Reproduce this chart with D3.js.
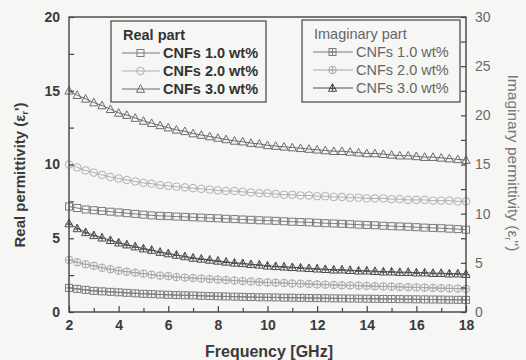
<!DOCTYPE html>
<html>
<head>
<meta charset="utf-8">
<script src="https://cdn.jsdelivr.net/npm/d3@7"></script>
<style>
  body { margin: 0; background: #f6f6f4; }
  svg { display: block; font-family: "Liberation Sans", Arial, sans-serif; }
</style>
</head>
<body>
<div id="chart"></div>
<script>
// frequency points (GHz)
const freq = [
  2.00, 2.33, 2.67, 3.00, 3.33, 3.67, 4.00,
  4.33, 4.67, 5.00, 5.33, 5.67, 6.00, 6.33,
  6.67, 7.00, 7.33, 7.67, 8.00, 8.33, 8.67,
  9.00, 9.33, 9.67, 10.00, 10.33, 10.67, 11.00,
  11.33, 11.67, 12.00, 12.33, 12.67, 13.00, 13.33,
  13.67, 14.00, 14.33, 14.67, 15.00, 15.33, 15.67,
  16.00, 16.33, 16.67, 17.00, 17.33, 17.67, 18.00
];

// real part (left axis)
const real30 = [
  15.0, 14.7, 14.45, 14.2, 14.0, 13.75, 13.5,
  13.35, 13.15, 12.95, 12.8, 12.65, 12.5, 12.35,
  12.25, 12.1, 12.0, 11.9, 11.8, 11.7, 11.6,
  11.55, 11.45, 11.4, 11.3, 11.25, 11.2, 11.15,
  11.1, 11.05, 11.0, 10.95, 10.9, 10.9, 10.85,
  10.8, 10.75, 10.75, 10.7, 10.65, 10.6, 10.6,
  10.55, 10.5, 10.5, 10.45, 10.4, 10.35, 10.3
];
const real20 = [
  10.0, 9.8, 9.6, 9.45, 9.3, 9.15, 9.05,
  8.95, 8.85, 8.75, 8.7, 8.6, 8.55, 8.5,
  8.45, 8.4, 8.35, 8.3, 8.25, 8.2, 8.2,
  8.15, 8.1, 8.05, 8.05, 8.0, 7.95, 7.95,
  7.9, 7.9, 7.85, 7.85, 7.8, 7.8, 7.75,
  7.75, 7.7, 7.7, 7.7, 7.65, 7.65, 7.6,
  7.6, 7.6, 7.55, 7.55, 7.55, 7.5, 7.5
];
const real10 = [
  7.15, 7.05, 6.95, 6.9, 6.85, 6.8, 6.75,
  6.7, 6.65, 6.6, 6.55, 6.52, 6.5, 6.47,
  6.45, 6.42, 6.4, 6.37, 6.35, 6.32, 6.3,
  6.27, 6.25, 6.22, 6.2, 6.18, 6.15, 6.12,
  6.1, 6.08, 6.05, 6.02, 6.0, 5.98, 5.95,
  5.92, 5.9, 5.88, 5.85, 5.82, 5.8, 5.78,
  5.75, 5.72, 5.7, 5.68, 5.65, 5.62, 5.58
];

// imaginary part (right axis)
const imag30 = [
  9.0, 8.5, 8.1, 7.8, 7.55, 7.3, 7.05,
  6.85, 6.65, 6.45, 6.3, 6.1, 5.95, 5.8,
  5.65, 5.5, 5.4, 5.3, 5.2, 5.1, 5.0,
  4.95, 4.85, 4.8, 4.7, 4.65, 4.6, 4.55,
  4.5, 4.45, 4.4, 4.35, 4.3, 4.3, 4.25,
  4.2, 4.2, 4.15, 4.1, 4.1, 4.05, 4.05,
  4.0, 4.0, 3.95, 3.95, 3.9, 3.9, 3.85
];
const imag20 = [
  5.3, 5.05, 4.85, 4.7, 4.5, 4.35, 4.2,
  4.1, 4.0, 3.9, 3.8, 3.7, 3.65, 3.55,
  3.5, 3.45, 3.4, 3.35, 3.3, 3.25, 3.2,
  3.15, 3.1, 3.05, 3.0, 2.98, 2.95, 2.9,
  2.88, 2.85, 2.8, 2.78, 2.75, 2.72, 2.7,
  2.68, 2.65, 2.62, 2.6, 2.58, 2.55, 2.52,
  2.5, 2.48, 2.45, 2.42, 2.4, 2.38, 2.35
];
const imag10 = [
  2.45, 2.35, 2.25, 2.15, 2.1, 2.05, 2.0,
  1.95, 1.9, 1.85, 1.82, 1.78, 1.75, 1.72,
  1.7, 1.68, 1.65, 1.62, 1.6, 1.58, 1.56,
  1.54, 1.52, 1.5, 1.49, 1.48, 1.46, 1.45,
  1.44, 1.42, 1.41, 1.4, 1.39, 1.38, 1.37,
  1.36, 1.35, 1.34, 1.33, 1.32, 1.31, 1.3,
  1.29, 1.28, 1.27, 1.26, 1.25, 1.24, 1.23
];

const legendLabels = ["CNFs 1.0 wt%", "CNFs 2.0 wt%", "CNFs 3.0 wt%"];
const xTicks = [2, 4, 6, 8, 10, 12, 14, 16, 18];
const leftTicks = [0, 5, 10, 15, 20];
const rightTicks = [0, 5, 10, 15, 20, 25, 30];

const width = 526, height = 360;
const margin = { top: 17, right: 60, bottom: 48, left: 69 };
const innerW = width - margin.left - margin.right;
const innerH = height - margin.top - margin.bottom;

const svg = d3.select("#chart").append("svg")
  .attr("width", width).attr("height", height);

const bounds = svg.append("g")
  .attr("transform", `translate(${margin.left},${margin.top})`);

const xScale = d3.scaleLinear().domain([2, 18]).range([0, innerW]);
const yLeft = d3.scaleLinear().domain([0, 20]).range([innerH, 0]);
const yRight = d3.scaleLinear().domain([0, 30]).range([innerH, 0]);

// series setup
const series = [
  { values: real10, scale: yLeft, shape: "square", cross: false, color: "#7a7a7a" },
  { values: real20, scale: yLeft, shape: "circle", cross: false, color: "#b0b0b0" },
  { values: real30, scale: yLeft, shape: "triangle", cross: false, color: "#6c6c6c" },
  { values: imag10, scale: yRight, shape: "square", cross: true, color: "#7c7c7c" },
  { values: imag20, scale: yRight, shape: "circle", cross: true, color: "#a8a8a8" },
  { values: imag30, scale: yRight, shape: "triangle", cross: true, color: "#4c4c4c" },
];

function drawMarker(g, shape, cross, color) {
  const r = 3.5;
  if (shape === "square") {
    g.append("rect").attr("x", -r).attr("y", -r).attr("width", 2 * r).attr("height", 2 * r);
  } else if (shape === "circle") {
    g.append("circle").attr("r", r + 0.3);
  } else {
    g.append("path").attr("d", `M0,${-r - 0.8}L${r + 0.6},${r - 0.2}L${-r - 0.6},${r - 0.2}Z`);
  }
  if (cross) {
    g.append("path").attr("d", shape === "triangle"
      ? `M0,${-r - 0.8}V${r - 0.2}M${-r},${0.6}H${r}`
      : `M0,${-r}V${r}M${-r},0H${r}`);
  }
  g.selectAll("*")
    .attr("fill", "none")
    .attr("stroke", color)
    .attr("stroke-width", 1);
}

const plot = bounds.append("g");
series.forEach((s) => {
  const pts = freq.map((f, i) => [f, s.values[i]]);
  const line = d3.line()
    .x((d) => xScale(d[0]))
    .y((d) => s.scale(d[1]));
  plot.append("path")
    .attr("d", line(pts))
    .attr("fill", "none")
    .attr("stroke", s.color)
    .attr("stroke-width", 1);
  pts.forEach((d) => {
    const g = plot.append("g")
      .attr("transform", `translate(${xScale(d[0])},${s.scale(d[1])})`);
    drawMarker(g, s.shape, s.cross, s.color);
  });
});

// axes (ticks point inward)
const xAxis = bounds.append("g")
  .attr("transform", `translate(0,${innerH})`)
  .call(d3.axisBottom(xScale).tickValues(d3.range(2, 19, 1))
    .tickSize(-5).tickPadding(8)
    .tickFormat((d) => (xTicks.includes(d) ? d : "")));
xAxis.selectAll(".tick line").attr("y2", (d) => (d % 2 === 0 ? -6 : -4));

const leftAxis = bounds.append("g")
  .call(d3.axisLeft(yLeft).tickValues(d3.range(0, 20.1, 2.5))
    .tickSize(-5).tickPadding(9)
    .tickFormat((d) => (leftTicks.includes(d) ? d : "")));

const rightAxis = bounds.append("g")
  .attr("transform", `translate(${innerW},0)`)
  .call(d3.axisRight(yRight).tickValues(d3.range(0, 30.1, 2.5))
    .tickSize(-5).tickPadding(9)
    .tickFormat((d) => (rightTicks.includes(d) ? d : "")));

[xAxis, leftAxis, rightAxis].forEach((a) => {
  a.select(".domain").remove();
  a.selectAll(".tick line").attr("stroke", "#444").attr("stroke-width", 1.2);
});
xAxis.selectAll("text").attr("font-size", 14).attr("font-weight", "bold").attr("fill", "#3a3a3a");
leftAxis.selectAll("text").attr("font-size", 14).attr("font-weight", "bold").attr("fill", "#3a3a3a");
rightAxis.selectAll("text").attr("font-size", 14).attr("fill", "#6a6a6a");

// frame
bounds.append("rect")
  .attr("width", innerW).attr("height", innerH)
  .attr("fill", "none").attr("stroke", "#444").attr("stroke-width", 1.4);

// axis titles
svg.append("text")
  .attr("x", 269).attr("y", 357)
  .attr("text-anchor", "middle").attr("font-size", 16).attr("font-weight", "bold")
  .attr("fill", "#3a3a3a").text("Frequency [GHz]");

const lt = svg.append("text")
  .attr("transform", "translate(25,175) rotate(-90)")
  .attr("text-anchor", "middle").attr("font-size", 15).attr("font-weight", "bold")
  .attr("fill", "#3a3a3a");
lt.append("tspan").text("Real permittivity (ε");
lt.append("tspan").attr("font-size", 9).attr("dy", 3).text("r");
lt.append("tspan").attr("dy", -3).text("')");

const rt = svg.append("text")
  .attr("transform", "translate(508,163) rotate(90)")
  .attr("text-anchor", "middle").attr("font-size", 15.5)
  .attr("fill", "#777");
rt.append("tspan").text("Imaginary permittivity (ε");
rt.append("tspan").attr("font-size", 9).attr("dy", 3).text("r");
rt.append("tspan").attr("dy", -3).text("'')");

// legends
function legend(x0, y0, w, h, title, items, bold, textColor, tx) {
  const g = svg.append("g").attr("transform", `translate(${x0},${y0})`);
  g.append("rect").attr("width", w).attr("height", h)
    .attr("fill", "none").attr("stroke", "#444").attr("stroke-width", 1.2);
  g.append("text").attr("x", 12).attr("y", 19)
    .attr("font-size", 14.5).attr("font-weight", bold ? "bold" : "normal")
    .attr("fill", textColor).text(title);
  items.forEach((s, i) => {
    const y = 32 + i * 18;
    g.append("line").attr("x1", 11).attr("x2", tx - 3).attr("y1", y).attr("y2", y)
      .attr("stroke", s.color).attr("stroke-width", 1);
    const m = g.append("g").attr("transform", `translate(${(11 + tx) / 2 - 2},${y})`);
    drawMarker(m, s.shape, s.cross, s.color);
    g.append("text").attr("x", tx).attr("y", y + 5)
      .attr("font-size", 14.5).attr("font-weight", bold ? "bold" : "normal")
      .attr("fill", textColor).text(legendLabels[i]);
  });
}
legend(111, 21, 155, 81, "Real part", series.slice(0, 3), true, "#333", 52);
legend(302, 20, 158, 82, "Imaginary part", series.slice(3, 6), false, "#666", 54);
</script>
</body>
</html>
